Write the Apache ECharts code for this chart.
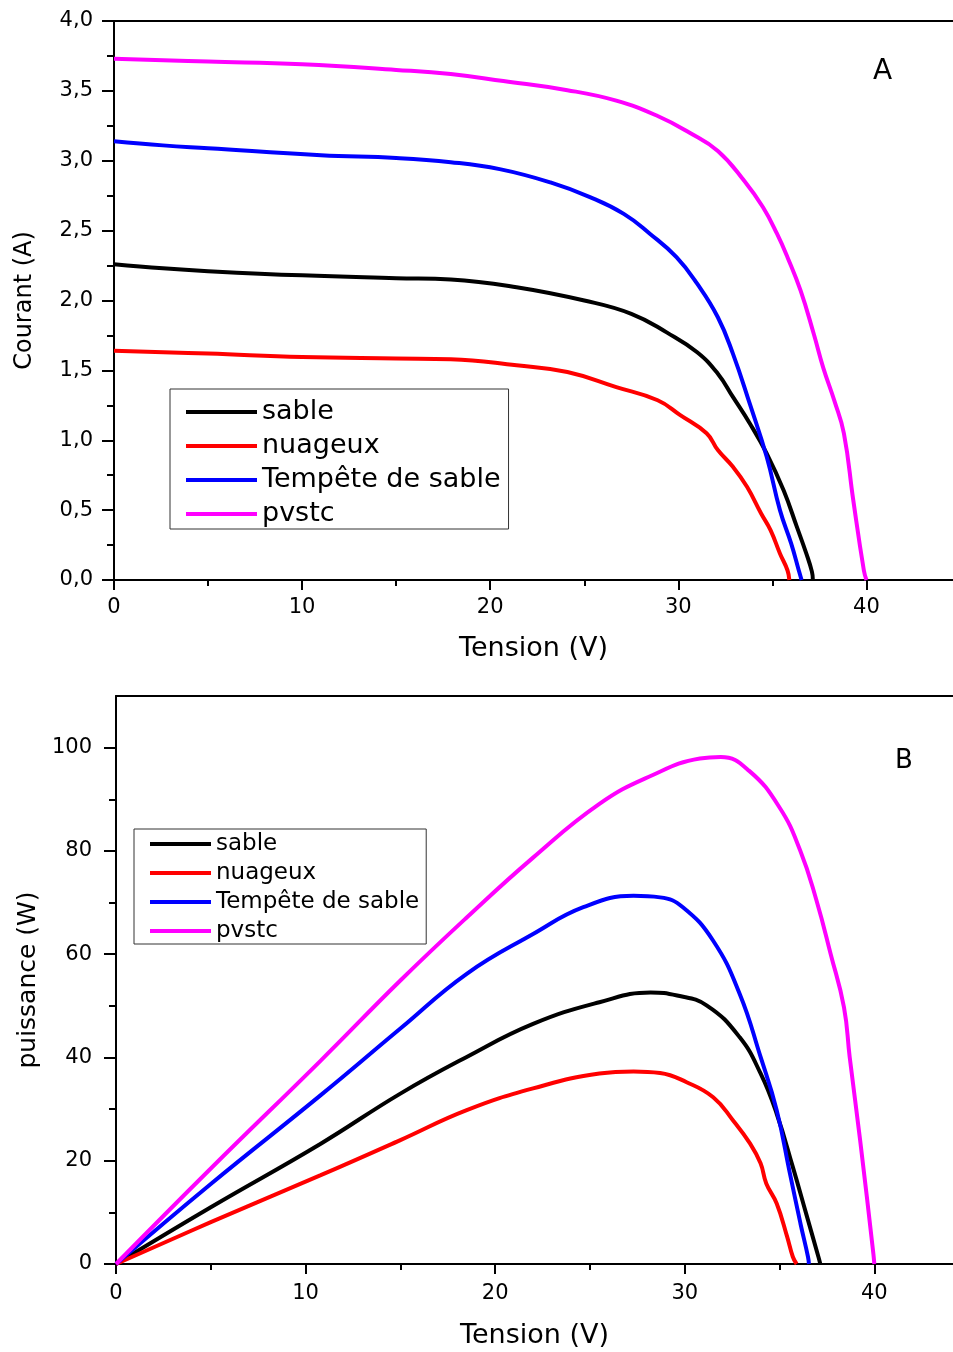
<!DOCTYPE html>
<html>
<head>
<meta charset="utf-8">
<script src="https://cdn.jsdelivr.net/npm/echarts@6/dist/echarts.min.js"></script>
<style>
  html, body { margin: 0; padding: 0; background: #fff; }
  #chart { width: 953px; height: 1352px; }
</style>
</head>
<body>
<div id="chart"></div>
<script>
const seriesNames = ["sable", "nuageux", "Tempête de sable", "pvstc"];
const seriesColors = ["#000000", "#ff0000", "#0000ff", "#ff00ff"];

// A : courant (A) en fonction de la tension (V)
const sableV_A = [0, 2.6, 5, 10, 15, 17.9, 21.4, 25, 27.5, 29.4, 31, 32.1, 32.9, 33.8, 34.7, 35.6, 36.3, 36.8, 37.1, 37.15];
const sableI = [2.26, 2.23, 2.21, 2.18, 2.16, 2.15, 2.095, 2.0, 1.905, 1.77, 1.63, 1.476, 1.31, 1.12, 0.905, 0.64, 0.38, 0.19, 0.06, 0];

const nuageuxV_A = [0, 5, 10, 15, 17.9, 21.4, 24.1, 26.7, 28.9, 30.1, 31.5, 32.1, 32.9, 33.65, 34.4, 34.9, 35.4, 35.8, 35.9];
const nuageuxI = [1.64, 1.62, 1.595, 1.585, 1.58, 1.536, 1.488, 1.38, 1.286, 1.18, 1.05, 0.93, 0.81, 0.667, 0.476, 0.357, 0.19, 0.07, 0];

const tempeteV_A = [0, 2.6, 5, 11, 15, 17.9, 20.5, 23.2, 25.3, 27.1, 28.5, 29.9, 31, 32.1, 32.9, 33.8, 34.7, 35.4, 36, 36.4, 36.55];
const tempeteI = [3.14, 3.11, 3.09, 3.04, 3.02, 2.99, 2.94, 2.845, 2.74, 2.62, 2.476, 2.31, 2.12, 1.88, 1.62, 1.26, 0.88, 0.5, 0.26, 0.07, 0];

const pvstcV_A = [0, 5, 10, 15, 17.9, 20.7, 24.1, 26.7, 28.9, 30.6, 32.1, 33.5, 34.5, 35.25, 35.8, 36.5, 37.2, 37.7, 38.3, 38.8, 39.3, 39.86, 40];
const pvstcI = [3.73, 3.71, 3.69, 3.65, 3.62, 3.57, 3.505, 3.43, 3.32, 3.2, 3.07, 2.857, 2.667, 2.476, 2.31, 2.07, 1.76, 1.52, 1.28, 1.05, 0.57, 0.07, 0];

// B : puissance (W) en fonction de la tension (V)
const sableV_B = [0, 5, 10.8, 15, 18.5, 22, 25.5, 28.2, 29.6, 31.15, 32.9, 34, 34.85, 35.7, 36.4, 37.05, 37.15];
const sableP = [0, 11, 23.3, 33, 40.1, 46.5, 50.7, 52.6, 52, 50.1, 43.9, 36.9, 29.1, 18.8, 9.8, 1.4, 0];

const nuageuxV_B = [0, 5, 10.8, 15, 18.5, 22, 25.5, 27.3, 28.7, 30.1, 31.5, 32.55, 33.45, 34, 34.3, 34.85, 35.4, 35.7, 35.9];
const nuageuxP = [0, 8.1, 17.2, 24, 29.8, 34, 36.9, 37.3, 37, 35.2, 32.3, 27.8, 23.3, 19.5, 15.6, 11.7, 5.3, 1.4, 0];

const tempeteV_B = [0, 5, 10.8, 15, 18.5, 22, 24.65, 27.3, 28.7, 29.9, 31.5, 32.9, 34, 34.85, 35.55, 36.1, 36.5, 36.55];
const tempeteP = [0, 15.5, 32.7, 45.6, 56.2, 63.9, 69.1, 71.3, 71, 69.1, 62.6, 52.3, 40.1, 29.8, 17.5, 7.9, 1.4, 0];

const pvstcV_B = [0, 5, 10.8, 15, 18.5, 22, 25.5, 28.2, 30.8, 31.9, 33.4, 35, 36.1, 36.95, 37.7, 38.4, 38.7, 39.25, 39.95, 40];
const pvstcP = [0, 18.5, 39.4, 54.9, 67.1, 78.7, 89.1, 94.5, 97.9, 98.2, 95.5, 88.4, 80, 70.4, 60, 49.7, 40.1, 24, 2, 0];

// graduations
const xMajorTicks = [0, 10, 20, 30, 40];
const xMinorTicks = [5, 15, 25, 35];
const yMajorTicksA = [0, 0.5, 1, 1.5, 2, 2.5, 3, 3.5, 4];
const yMinorTicksA = [0.25, 0.75, 1.25, 1.75, 2.25, 2.75, 3.25, 3.75];
const yMajorTicksB = [0, 20, 40, 60, 80, 100];
const yMinorTicksB = [10, 30, 50, 70, 90];

const font = "DejaVu Sans";
const black = { color: "#000", width: 2 };

const pairs = (xs, ys) => xs.map((x, i) => [x, ys[i]]);

function mainX(gridIndex, max, margin, nameGap) {
  return {
    type: "value", gridIndex, min: 0, max, position: "bottom",
    name: "Tension (V)", nameLocation: "middle", nameGap,
    nameTextStyle: { fontSize: 27, fontFamily: font, color: "#000" },
    axisLine: { show: true, onZero: false, lineStyle: black },
    axisTick: { show: true, length: 10, lineStyle: black, customValues: xMajorTicks },
    axisLabel: { customValues: xMajorTicks, margin, fontSize: 21, fontFamily: font, color: "#000" },
    splitLine: { show: false },
  };
}

function minorX(gridIndex, max) {
  return {
    type: "value", gridIndex, min: 0, max, position: "bottom",
    axisLine: { show: false, onZero: false },
    axisTick: { show: true, length: 6, lineStyle: black, customValues: xMinorTicks },
    axisLabel: { show: false },
    splitLine: { show: false },
  };
}

function topBorder(gridIndex, max) {
  return {
    type: "value", gridIndex, min: 0, max, position: "top",
    axisLine: { show: true, onZero: false, lineStyle: black },
    axisTick: { show: false },
    axisLabel: { show: false },
    splitLine: { show: false },
  };
}

function mainY(gridIndex, max, ticks, margin, name, nameSize, nameGap, formatter) {
  return {
    type: "value", gridIndex, min: 0, max, position: "left",
    name, nameLocation: "middle", nameGap,
    nameTextStyle: { fontSize: nameSize, fontFamily: font, color: "#000" },
    axisLine: { show: true, onZero: false, lineStyle: black },
    axisTick: { show: true, length: 12, lineStyle: black, customValues: ticks },
    axisLabel: { customValues: ticks, margin, fontSize: 21, fontFamily: font, color: "#000", formatter },
    splitLine: { show: false },
  };
}

function minorY(gridIndex, max, ticks) {
  return {
    type: "value", gridIndex, min: 0, max, position: "left",
    axisLine: { show: false, onZero: false },
    axisTick: { show: true, length: 7, lineStyle: black, customValues: ticks },
    axisLabel: { show: false },
    splitLine: { show: false },
  };
}

function line(idx, xAxisIndex, yAxisIndex, data) {
  return {
    name: seriesNames[idx], type: "line", xAxisIndex, yAxisIndex, data,
    symbol: "none", animation: false,
    smooth: 0.45,
    lineStyle: { color: seriesColors[idx], width: 4 },
    itemStyle: { color: seriesColors[idx] },
  };
}

const chart = echarts.init(document.getElementById("chart"));
chart.setOption({
  backgroundColor: "#fff",
  animation: false,
  grid: [
    { left: 114, top: 21, right: 0, bottom: 772 },
    { left: 116, top: 696, right: 0, bottom: 88 },
  ],
  xAxis: [
    mainX(0, 44.6, 17, 55), minorX(0, 44.6), topBorder(0, 44.6),
    mainX(1, 44.15, 19, 58), minorX(1, 44.15), topBorder(1, 44.15),
  ],
  yAxis: [
    mainY(0, 4, yMajorTicksA, 21, "Courant (A)", 24, 77, (v) => v.toFixed(1).replace(".", ",")),
    minorY(0, 4, yMinorTicksA),
    mainY(1, 110, yMajorTicksB, 24, "puissance (W)", 25, 70, (v) => String(v)),
    minorY(1, 110, yMinorTicksB),
  ],
  legend: [
    {
      data: seriesNames, orient: "vertical", left: 170, top: 389,
      icon: "rect", itemWidth: 71, itemHeight: 4, itemGap: 4, padding: [8, 8, 0, 16],
      borderColor: "#333", borderWidth: 1, backgroundColor: "#fff",
      selectedMode: false,
      textStyle: { fontSize: 27, fontFamily: font, color: "#000", lineHeight: 30 },
    },
    {
      data: seriesNames, orient: "vertical", left: 134, top: 829,
      icon: "rect", itemWidth: 61, itemHeight: 4, itemGap: 3, padding: [2, 7, 0, 16],
      borderColor: "#333", borderWidth: 1, backgroundColor: "#fff",
      selectedMode: false,
      textStyle: { fontSize: 23, fontFamily: font, color: "#000", lineHeight: 26 },
    },
  ],
  graphic: [
    { type: "text", x: 882.7, y: 72, style: { text: "A", fontSize: 28, fontFamily: font, fill: "#000", align: "center", verticalAlign: "middle" } },
    { type: "text", x: 904, y: 761, style: { text: "B", fontSize: 26, fontFamily: font, fill: "#000", align: "center", verticalAlign: "middle" } },
  ],
  series: [
    line(0, 0, 0, pairs(sableV_A, sableI)),
    line(1, 0, 0, pairs(nuageuxV_A, nuageuxI)),
    line(2, 0, 0, pairs(tempeteV_A, tempeteI)),
    line(3, 0, 0, pairs(pvstcV_A, pvstcI)),
    line(0, 3, 2, pairs(sableV_B, sableP)),
    line(1, 3, 2, pairs(nuageuxV_B, nuageuxP)),
    line(2, 3, 2, pairs(tempeteV_B, tempeteP)),
    line(3, 3, 2, pairs(pvstcV_B, pvstcP)),
  ],
});

window.addEventListener("resize", () => chart.resize());
</script>
</body>
</html>
